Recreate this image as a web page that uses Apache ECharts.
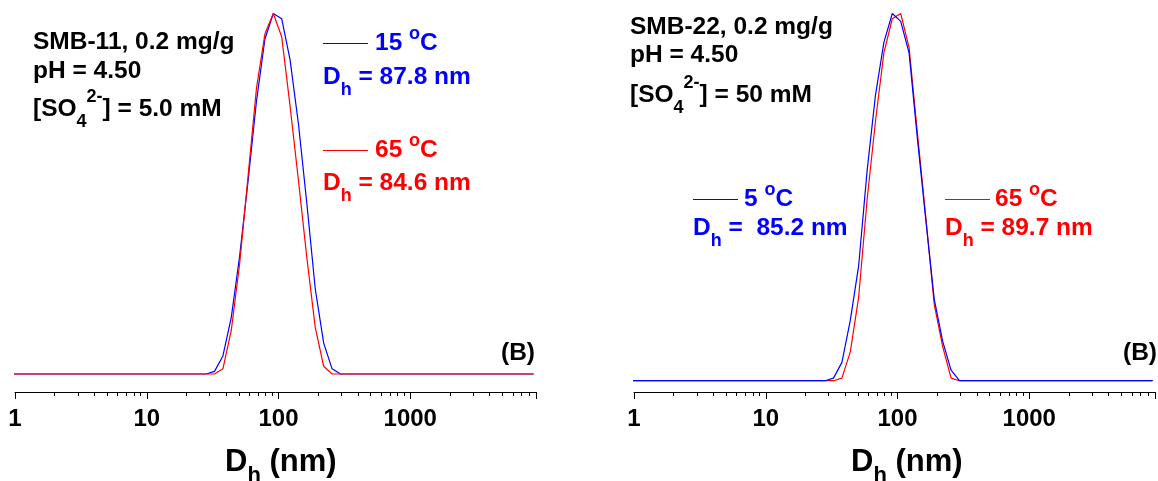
<!DOCTYPE html>
<html>
<head>
<meta charset="utf-8">
<script src="https://cdn.jsdelivr.net/npm/echarts@6/dist/echarts.min.js"></script>
<style>
  html, body { margin: 0; padding: 0; background: #fff; }
  #chart { width: 1158px; height: 481px; }
</style>
</head>
<body>
<div id="chart"></div>
<script>
// DLS size bins, hydrodynamic diameter in nm
const sizes = [
  0.9649, 1.117, 1.294, 1.499, 1.736, 2.010, 2.328, 2.696, 3.122, 3.615, 4.187, 4.849, 5.615, 6.503, 7.531, 8.721,
  10.10, 11.70, 13.54, 15.69, 18.17, 21.04, 24.36,
  28.21, 32.67, 37.84, 43.82, 50.75, 58.77, 68.06, 78.82, 91.28, 105.7, 122.4, 141.8, 164.2, 190.1, 220.2, 255.0, 295.3, 342.0,
  396.1, 458.7, 531.2, 615.1, 712.4, 825.0, 955.4, 1106, 1281, 1484, 1718, 1990, 2305, 2669, 3091, 3580, 4145, 4801, 5560, 6439, 7456, 8635
];

// Intensity distributions (%), SMB-11, [SO4 2-] = 5.0 mM
const smb11_15C = [
  0, 0, 0, 0, 0, 0, 0, 0, 0, 0, 0, 0, 0, 0, 0, 0,
  0, 0, 0, 0, 0, 0, 0,
  0, 0.1, 0.7, 2.2, 4.6, 7.5, 10.6, 13.0, 14.0, 13.8, 12.2, 9.7, 6.6, 3.3, 1.2, 0.2, 0, 0,
  0, 0, 0, 0, 0, 0, 0, 0, 0, 0, 0, 0, 0, 0, 0, 0, 0, 0, 0, 0, 0, 0
];
const smb11_65C = [
  0, 0, 0, 0, 0, 0, 0, 0, 0, 0, 0, 0, 0, 0, 0, 0,
  0, 0, 0, 0, 0, 0, 0,
  0, 0, 0.2, 1.7, 4.3, 7.7, 11.1, 13.2, 14.0, 13.1, 10.4, 7.5, 4.5, 1.8, 0.3, 0, 0, 0,
  0, 0, 0, 0, 0, 0, 0, 0, 0, 0, 0, 0, 0, 0, 0, 0, 0, 0, 0, 0, 0, 0
];

// Intensity distributions (%), SMB-22, [SO4 2-] = 50 mM
const smb22_5C = [
  0, 0, 0, 0, 0, 0, 0, 0, 0, 0, 0, 0, 0, 0, 0, 0,
  0, 0, 0, 0, 0, 0, 0,
  0, 0.1, 0.7, 2.3, 4.4, 8.0, 10.9, 12.9, 14.0, 13.7, 12.5, 9.2, 6.1, 3.1, 1.5, 0.4, 0, 0,
  0, 0, 0, 0, 0, 0, 0, 0, 0, 0, 0, 0, 0, 0, 0, 0, 0, 0, 0, 0, 0, 0
];
const smb22_65C = [
  0, 0, 0, 0, 0, 0, 0, 0, 0, 0, 0, 0, 0, 0, 0, 0,
  0, 0, 0, 0, 0, 0, 0,
  0, 0, 0.1, 1.1, 3.2, 6.9, 9.9, 12.5, 13.8, 14.0, 12.7, 9.4, 6.2, 2.9, 1.3, 0.1, 0, 0,
  0, 0, 0, 0, 0, 0, 0, 0, 0, 0, 0, 0, 0, 0, 0, 0, 0, 0, 0, 0, 0, 0
];

// Decades that carry a tick label
const labelledTicks = [1, 10, 100, 1000];

const BLUE = '#0000ff';
const RED = '#ff0000';
const FONT = "'Liberation Sans', Arial, Helvetica, sans-serif";

const measureCtx = document.createElement('canvas').getContext('2d');
function textWidth(text, size) {
  measureCtx.font = 'bold ' + size + 'px ' + FONT;
  return measureCtx.measureText(text).width;
}

// Lay out a run of text pieces on a common baseline.
// Each piece: [text, fontSize, baselineShift]
function textRun(x, baseline, pieces, color) {
  const out = [];
  let cx = x;
  pieces.forEach(function (p) {
    const text = p[0], size = p[1], shift = p[2] || 0;
    out.push({
      type: 'text', silent: true, x: cx, y: baseline + shift - 0.35 * size,
      style: { text: text, fill: color, fontSize: size, fontWeight: 'bold',
               fontFamily: FONT, align: 'left', verticalAlign: 'middle' }
    });
    cx += textWidth(text, size);
  });
  return out;
}

function legendLine(x1, x2, y, color) {
  return { type: 'line', silent: true,
    shape: { x1: x1, y1: y, x2: x2, y2: y },
    style: { stroke: color, lineWidth: 1 } };
}

const M = 24.5, S = 18, SUB = 10, SUP = -12;
const T = 31, TS = 22;

const graphics = [].concat(
  // left panel
  textRun(33, 51, [['SMB-11, 0.2 mg/g', M]], '#000'),
  textRun(33, 80, [['pH = 4.50', M]], '#000'),
  textRun(33, 118, [['[SO', M], ['4', S, SUB], ['2-', S, -15], ['] = 5.0 mM', M]], '#000'),
  [legendLine(323, 368, 43.5, BLUE)],
  textRun(375, 52, [['15 ', M], ['o', S, SUP], ['C', M]], BLUE),
  textRun(323, 86, [['D', M], ['h', S, SUB], [' = 87.8 nm', M]], BLUE),
  [legendLine(323, 368, 150.5, RED)],
  textRun(375, 159, [['65 ', M], ['o', S, SUP], ['C', M]], RED),
  textRun(323, 192, [['D', M], ['h', S, SUB], [' = 84.6 nm', M]], RED),
  textRun(501, 362, [['(B)', M]], '#000'),
  textRun(225, 473, [['D', T], ['h', TS, 11], [' (nm)', T]], '#000'),
  // right panel
  textRun(630, 36, [['SMB-22, 0.2 mg/g', M]], '#000'),
  textRun(630, 64, [['pH = 4.50', M]], '#000'),
  textRun(630, 104, [['[SO', M], ['4', S, SUB], ['2-', S, -15], ['] = 50 mM', M]], '#000'),
  [legendLine(693, 738, 199.5, BLUE)],
  textRun(744, 208, [['5 ', M], ['o', S, SUP], ['C', M]], BLUE),
  textRun(693, 237, [['D', M], ['h', S, SUB], [' =  85.2 nm', M]], BLUE),
  [legendLine(945, 990, 199.5, RED)],
  textRun(995, 208, [['65 ', M], ['o', S, SUP], ['C', M]], RED),
  textRun(945, 237, [['D', M], ['h', S, SUB], [' = 89.7 nm', M]], RED),
  textRun(1123, 362, [['(B)', M]], '#000'),
  textRun(851, 473, [['D', T], ['h', TS, 11], [' (nm)', T]], '#000')
);

function logAxis(gridIndex) {
  return {
    type: 'log', logBase: 10, gridIndex: gridIndex, min: 1, max: 9000,
    axisLine: { onZero: false, lineStyle: { color: '#000', width: 1 } },
    axisTick: { inside: false, length: 7, lineStyle: { color: '#000', width: 1 } },
    minorTick: { show: true, splitNumber: 9, length: 4, lineStyle: { color: '#000', width: 1 } },
    splitLine: { show: false },
    minorSplitLine: { show: false },
    axisLabel: {
      margin: 15, color: '#000', fontSize: 24, fontWeight: 'bold', fontFamily: FONT,
      formatter: function (v) {
        const r = Math.round(v);
        return (Math.abs(v - r) < 1e-6 && labelledTicks.indexOf(r) >= 0) ? String(r) : '';
      }
    }
  };
}

function valueAxis(gridIndex, min, max) {
  return { type: 'value', gridIndex: gridIndex, min: min, max: max, show: false };
}

function curve(xi, values, color) {
  return {
    type: 'line', xAxisIndex: xi, yAxisIndex: xi, showSymbol: false, symbol: 'none',
    lineStyle: { color: color, width: 1.2 }, itemStyle: { color: color },
    data: sizes.map(function (s, i) { return [s, values[i]]; })
  };
}

const chart = echarts.init(document.getElementById('chart'), null, { renderer: 'canvas' });
chart.setOption({
  animation: false,
  backgroundColor: '#fff',
  grid: [
    { left: 15, width: 521, top: 13.5, bottom: 89 },
    { left: 634, width: 528, top: 13.5, bottom: 89 }
  ],
  xAxis: [logAxis(0), logAxis(1)],
  yAxis: [valueAxis(0, -0.7, 14), valueAxis(1, -0.43, 14)],
  series: [
    curve(0, smb11_15C, BLUE),
    curve(0, smb11_65C, RED),
    curve(1, smb22_65C, RED),
    curve(1, smb22_5C, BLUE)
  ],
  graphic: graphics
});
</script>
</body>
</html>
